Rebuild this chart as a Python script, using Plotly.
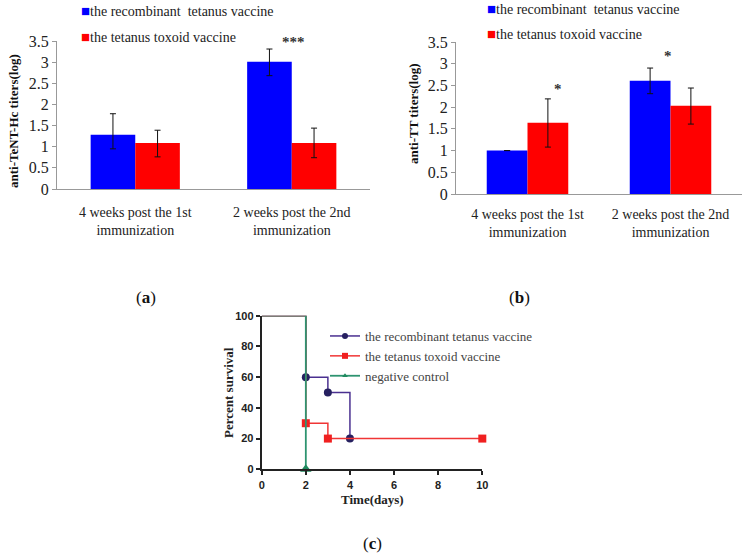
import plotly.graph_objects as go

W, H = 747, 556

# ---------------- data ----------------
categories = ["4 weeks post the 1st<br>immunization", "2 weeks post the 2nd<br>immunization"]
series_names = ["the recombinant\u00a0 tetanus vaccine", "the tetanus toxoid vaccine"]

# panel (a): anti-TeNT-Hc titers(log)
a_recomb = [1.28, 3.01]
a_recomb_plus = [0.50, 0.30]
a_recomb_minus = [0.33, 0.33]
a_toxoid = [1.09, 1.09]
a_toxoid_plus = [0.30, 0.35]
a_toxoid_minus = [0.33, 0.35]

# panel (b): anti-TT titers(log)
b_recomb = [1.00, 2.61]
b_recomb_plus = [0.0, 0.29]
b_recomb_minus = [0.0, 0.30]
b_toxoid = [1.64, 2.03]
b_toxoid_plus = [0.55, 0.41]
b_toxoid_minus = [0.56, 0.42]

# panel (c): survival
c_names = ["the recombinant tetanus vaccine", "the tetanus toxoid vaccine", "negative control"]
c_recomb_days = [0, 2, 3, 4]
c_recomb_surv = [100, 60, 50, 20]
c_toxoid_days = [0, 2, 3, 10]
c_toxoid_surv = [100, 30, 20, 20]
c_neg_days = [0, 2]
c_neg_surv = [100, 0]

BLUE = "#0000FF"
RED = "#FF0000"
SERIF = "Liberation Serif"


def px(x):
    return x / W


def py(y):
    return 1 - y / H


fig = go.Figure()

err_style = dict(color="#111111", thickness=1, width=3)

# panel (a)
fig.add_trace(go.Bar(x=categories, y=a_recomb, name=series_names[0], marker_color=BLUE,
                     marker_line_width=0, xaxis="x", yaxis="y", showlegend=False,
                     error_y=dict(type="data", array=a_recomb_plus, arrayminus=a_recomb_minus, **err_style)))
fig.add_trace(go.Bar(x=categories, y=a_toxoid, name=series_names[1], marker_color=RED,
                     marker_line_width=0, xaxis="x", yaxis="y", showlegend=False,
                     error_y=dict(type="data", array=a_toxoid_plus, arrayminus=a_toxoid_minus, **err_style)))
# panel (b)
fig.add_trace(go.Bar(x=categories, y=b_recomb, name=series_names[0], marker_color=BLUE,
                     marker_line_width=0, xaxis="x2", yaxis="y2", showlegend=False,
                     error_y=dict(type="data", array=b_recomb_plus, arrayminus=b_recomb_minus, **err_style)))
fig.add_trace(go.Bar(x=categories, y=b_toxoid, name=series_names[1], marker_color=RED,
                     marker_line_width=0, xaxis="x2", yaxis="y2", showlegend=False,
                     error_y=dict(type="data", array=b_toxoid_plus, arrayminus=b_toxoid_minus, **err_style)))

# panel (c)
fig.add_trace(go.Scatter(x=c_recomb_days, y=c_recomb_surv, name=c_names[0], mode="lines+markers",
                         line=dict(color="#4A3090", width=1.5, shape="hv"),
                         marker=dict(symbol="circle", size=[0, 8, 8, 8], color="#262060",
                                     opacity=1, line=dict(width=0)),
                         xaxis="x3", yaxis="y3", cliponaxis=False))
fig.add_trace(go.Scatter(x=c_toxoid_days, y=c_toxoid_surv, name=c_names[1], mode="lines+markers",
                         line=dict(color="#F03535", width=1.5, shape="hv"),
                         marker=dict(symbol="square", size=[0, 8, 8, 8], color="#F02020",
                                     opacity=1, line=dict(width=0)),
                         xaxis="x3", yaxis="y3", cliponaxis=False))
fig.add_trace(go.Scatter(x=c_neg_days, y=c_neg_surv, name=c_names[2], mode="lines+markers",
                         line=dict(color="#2E9470", width=1.8, shape="hv"),
                         marker=dict(symbol="triangle-up", size=[0, 10], color="#1F8A5E",
                                     opacity=1, line=dict(width=0)),
                         xaxis="x3", yaxis="y3", cliponaxis=False))

tick_serif = dict(family=SERIF, size=16, color="#222222")

fig.update_layout(
    width=W, height=H,
    margin=dict(l=0, r=0, t=0, b=0, autoexpand=False),
    paper_bgcolor="white", plot_bgcolor="white",
    barmode="group", bargap=0.43, bargroupgap=0,
    showlegend=True,
    legend=dict(x=px(325), y=py(321), xanchor="left", yanchor="top",
                font=dict(family=SERIF, size=13, color="#444444"),
                bgcolor="rgba(0,0,0,0)", tracegroupgap=0),
    font=dict(family=SERIF),
    xaxis=dict(domain=[px(57), px(370)], type="category", showline=True, linecolor="#999999",
               linewidth=1, ticks="", tickfont=dict(family=SERIF, size=14, color="#222222"),
               showgrid=False, zeroline=False, anchor="y", ticklabelstandoff=10),
    yaxis=dict(domain=[py(189), py(41)], range=[0, 3.5], dtick=0.5, showline=True,
               linecolor="#999999", linewidth=1, ticks="outside", ticklen=4, tickcolor="#999999",
               tickfont=tick_serif, showgrid=False, zeroline=False, anchor="x"),
    xaxis2=dict(domain=[px(456), px(742)], type="category", showline=True, linecolor="#999999",
                linewidth=1, ticks="", tickfont=dict(family=SERIF, size=14, color="#222222"),
                showgrid=False, zeroline=False, anchor="y2", ticklabelstandoff=7),
    yaxis2=dict(domain=[py(194), py(42)], range=[0, 3.5], dtick=0.5, showline=True,
                linecolor="#999999", linewidth=1, ticks="outside", ticklen=4, tickcolor="#999999",
                tickfont=tick_serif, showgrid=False, zeroline=False, anchor="x2"),
    xaxis3=dict(domain=[px(261.7), px(482.3)], range=[0, 10], dtick=2, showline=True,
                linecolor="#222222", linewidth=2, ticks="outside", ticklen=4, tickwidth=2,
                tickcolor="#222222",
                tickfont=dict(family="Liberation Sans", size=11, color="#222222", weight="bold"),
                showgrid=False, zeroline=False, anchor="y3"),
    yaxis3=dict(domain=[py(469.3), py(315.7)], range=[0, 100], dtick=20, showline=True,
                linecolor="#222222", linewidth=2, ticks="outside", ticklen=4, tickwidth=2,
                tickcolor="#222222",
                tickfont=dict(family="Liberation Sans", size=11, color="#222222", weight="bold"),
                showgrid=False, zeroline=False, anchor="x3"),
)

ann = []
sq = "<span style='font-size:15px;color:{c}'>\u25A0</span>"
# bar legends (a) and (b)
legend_rows = [(79, 11, BLUE, series_names[0]), (79, 37, RED, series_names[1]),
               (485, 9, BLUE, series_names[0]), (485, 34, RED, series_names[1])]
for x, y, c, t in legend_rows:
    ann.append(dict(x=px(x), y=py(y), xref="paper", yref="paper", text=sq.format(c=c) + t,
                    xanchor="left", yanchor="middle", showarrow=False,
                    font=dict(family=SERIF, size=14, color="#222222")))


def label(x, y, text, size=13, angle=0, color="#111111"):
    ann.append(dict(x=px(x), y=py(y), xref="paper", yref="paper", text=text, textangle=angle,
                    xanchor="center", yanchor="middle", showarrow=False,
                    font=dict(family=SERIF, size=size, color=color)))


# axis titles
label(14, 121, "<b>anti-TeNT-Hc titers(log)</b>", angle=-90)
label(413, 114, "<b>anti-TT titers(log)</b>", angle=-90)
label(228, 393, "<b>Percent survival</b>", angle=-90, color="#222222")
label(372, 499, "<b>Time(days)</b>", color="#222222")

# significance marks
star_font = dict(family=SERIF, size=15, color="#333333")
ann.append(dict(x=categories[1], y=3.47, xref="x", yref="y", text="<b>***</b>", xshift=2,
                xanchor="center", yanchor="middle", showarrow=False, font=star_font))
ann.append(dict(x=categories[0], y=2.42, xref="x2", yref="y2", text="<b>*</b>", xshift=30,
                xanchor="center", yanchor="middle", showarrow=False, font=star_font))
ann.append(dict(x=categories[1], y=3.18, xref="x2", yref="y2", text="<b>*</b>", xshift=-3,
                xanchor="center", yanchor="middle", showarrow=False, font=star_font))

# panel letters
for lbl, x, y in [("a", 146, 297), ("b", 519, 297), ("c", 372, 543)]:
    label(x, y, "(<b>" + lbl + "</b>)", size=17)

fig.update_layout(annotations=ann)

fig.write_html("out.html", config={"displayModeBar": False},
               post_script="document.body.style.margin='0px';")
